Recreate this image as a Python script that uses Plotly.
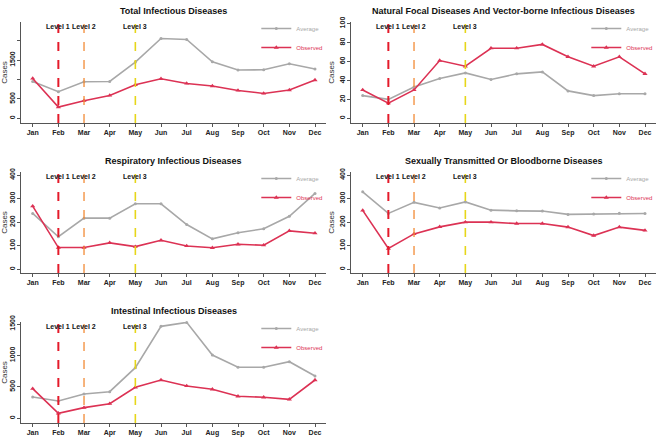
import plotly.graph_objects as go

MONTHS = ["Jan", "Feb", "Mar", "Apr", "May", "Jun", "Jul", "Aug", "Sep", "Oct", "Nov", "Dec"]

TITLES = [
    "Total Infectious Diseases",
    "Natural Focal Diseases And Vector-borne Infectious Diseases",
    "Respiratory Infectious Diseases",
    "Sexually Transmitted Or Bloodborne Diseases",
    "Intestinal Infectious Diseases",
]

total_avg = [950, 686, 942, 950, 1448, 2055, 2030, 1455, 1243, 1250, 1405, 1268]
total_obs = [1026, 292, 454, 590, 864, 1018, 897, 831, 718, 641, 728, 985]

natural_avg = [24, 20, 33, 42, 48, 41, 47, 49, 29, 24, 26, 26]
natural_obs = [30, 16, 30, 61, 55, 74, 74, 78, 65, 55, 65, 47]

resp_avg = [237, 138, 217, 217, 278, 278, 190, 129, 155, 172, 225, 322]
resp_obs = [268, 92, 92, 112, 96, 123, 99, 91, 106, 102, 163, 153]

std_avg = [329, 237, 284, 260, 286, 251, 248, 247, 233, 235, 238, 237]
std_obs = [250, 88, 150, 180, 200, 200, 194, 194, 179, 143, 179, 165]

intest_avg = [339, 275, 386, 423, 805, 1463, 1526, 1006, 811, 811, 900, 672]
intest_obs = [471, 79, 169, 232, 493, 609, 514, 461, 350, 334, 302, 609]

LEVEL_NAMES = ["Level 1", "Level 2", "Level 3"]
LEVEL_MONTHS = ["Feb", "Mar", "May"]

Y_TICKS = [
    [0, 500, 1000, 1500, 2000],
    [0, 20, 40, 60, 80, 100],
    [0, 100, 200, 300, 400],
    [0, 100, 200, 300, 400],
    [0, 500, 1000, 1500],
]
Y_TICKTEXT = [
    ["0", "500", "", "1500", ""],
    ["0", "20", "40", "60", "80", "100"],
    ["0", "100", "200", "300", "400"],
    ["0", "100", "200", "300", "400"],
    ["0", "500", "1000", "1500"],
]

SERIES = [
    (total_avg, total_obs),
    (natural_avg, natural_obs),
    (resp_avg, resp_obs),
    (std_avg, std_obs),
    (intest_avg, intest_obs),
]

# ---- layout / style (not data) ----
W, H = 669, 446
COLS = [(21.4, 326.3), (351.4, 656.3)]
ROWS = [(22, 123), (172, 273), (322, 423)]
PANEL_POS = [(0, 0), (1, 0), (0, 1), (1, 1), (0, 2)]
Y_RANGES = [[-120, 2480], [-4.9, 101.7], [-16, 413], [-16, 413], [-75, 1532]]

FONT = "Liberation Sans, Arial, sans-serif"
GRAY = "#a8a8a8"
RED = "#dc3254"
LEVEL_COLORS = ["#e41a2a", "#f28a35", "#e6d619"]
LEVEL_WIDTHS = [2.0, 1.3, 1.6]
AXIS_COLOR = "#555555"

fig = go.Figure()
layout = dict(
    width=W, height=H,
    margin=dict(l=0, r=0, t=0, b=0, autoexpand=False),
    paper_bgcolor="white", plot_bgcolor="white",
    font=dict(family=FONT, color="#222222"),
    showlegend=True,
    shapes=[], annotations=[],
)

for i, (title, (avg, obs)) in enumerate(zip(TITLES, SERIES)):
    c, r = PANEL_POS[i]
    x0p, x1p = COLS[c]
    t, b = ROWS[r]
    xdom = [x0p / W, x1p / W]
    ydom = [1 - b / H, 1 - t / H]
    n = i + 1
    xa = "x" if n == 1 else f"x{n}"
    ya = "y" if n == 1 else f"y{n}"
    lg = "legend" if n == 1 else f"legend{n}"

    fig.add_trace(go.Scatter(
        x=MONTHS, y=avg, xaxis=xa, yaxis=ya, mode="lines+markers",
        name=f'<span style="color:{GRAY}">Average</span>',
        line=dict(color=GRAY, width=1.6),
        marker=dict(symbol="circle", size=3, color=GRAY),
        legend=lg, cliponaxis=False,
    ))
    fig.add_trace(go.Scatter(
        x=MONTHS, y=obs, xaxis=xa, yaxis=ya, mode="lines+markers",
        name=f'<span style="color:{RED}">Observed</span>',
        line=dict(color=RED, width=1.6),
        marker=dict(symbol="triangle-up", size=4.5, color=RED),
        legend=lg, cliponaxis=False,
    ))

    xkey = "xaxis" if n == 1 else f"xaxis{n}"
    ykey = "yaxis" if n == 1 else f"yaxis{n}"
    layout[xkey] = dict(
        domain=xdom, anchor=ya, type="category",
        categoryorder="array", categoryarray=MONTHS,
        range=[-0.44, 11.44], showgrid=False, zeroline=False,
        showline=True, linecolor=AXIS_COLOR, linewidth=1,
        ticks="outside", ticklen=3, tickcolor=AXIS_COLOR, tickwidth=1,
        tickfont=dict(family=FONT, size=7, color="#222222", weight="bold"),
        automargin=False,
    )
    layout[ykey] = dict(
        domain=ydom, anchor=xa, range=Y_RANGES[i],
        showgrid=False, zeroline=False,
        showline=True, linecolor=AXIS_COLOR, linewidth=1,
        ticks="outside", ticklen=3, tickcolor=AXIS_COLOR, tickwidth=1,
        tickvals=Y_TICKS[i], ticktext=Y_TICKTEXT[i], tickangle=-90,
        tickfont=dict(family=FONT, size=7, color="#222222", weight="bold"),
        title=dict(text="Cases", standoff=2,
                   font=dict(family=FONT, size=8, color="#333333")),
        automargin=False,
    )
    layout[lg] = dict(
        x=(x1p + 2) / W, y=1 - (t - 8) / H, xanchor="right", yanchor="top",
        xref="paper", yref="paper",
        bgcolor="rgba(255,255,255,0)", borderwidth=0,
        font=dict(family=FONT, size=6), itemwidth=30,
        tracegroupgap=0,
    )

    layout["annotations"].append(dict(
        text=title, x=(xdom[0] + xdom[1]) / 2, y=1 - (t - 11) / H,
        xref="paper", yref="paper", showarrow=False,
        xanchor="center", yanchor="middle",
        font=dict(family=FONT, size=9, color="#111111", weight="bold"),
    ))

    for lname, lm, lc, lw in zip(LEVEL_NAMES, LEVEL_MONTHS, LEVEL_COLORS, LEVEL_WIDTHS):
        xi = MONTHS.index(lm)
        layout["shapes"].append(dict(
            type="line", xref=xa, yref=f"{ya} domain",
            x0=xi, x1=xi, y0=0, y1=1,
            line=dict(color=lc, width=lw, dash="dash"),
        ))
        layout["annotations"].append(dict(
            text=lname, x=xi, y=0.955, xref=xa, yref=f"{ya} domain",
            showarrow=False, xanchor="center", yanchor="middle",
            font=dict(family=FONT, size=7, color="#111111", weight="bold"),
        ))

fig.update_layout(**layout)
fig.write_html(
    "out.html",
    config={"displayModeBar": False},
    post_script="document.body.style.margin='0px';document.body.style.overflow='hidden';",
)
